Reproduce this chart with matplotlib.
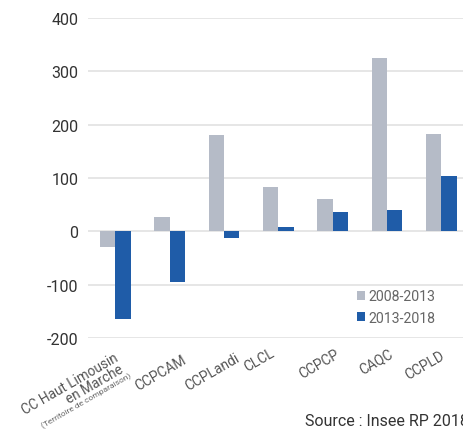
import numpy as np
import matplotlib
matplotlib.use("Agg")
import matplotlib.pyplot as plt
from matplotlib.transforms import ScaledTranslation, blended_transform_factory
from matplotlib.ticker import FuncFormatter

plt.rcParams['font.family'] = ['Roboto', 'DejaVu Sans']

categories = ["CC Haut Limousin", "CCPCAM", "CCPLandi", "CLCL", "CCPCP", "CAQC", "CCPLD"]
first_line2 = "en Marche"
subtitle = "(Territoire de comparaison)"
series_names = ["2008-2013", "2013-2018"]
v_2008_2013 = [-29, 27, 181, 84, 60, 324, 182]
v_2013_2018 = [-163, -95, -12, 9, 37, 41, 104]
yticks = [-200, -100, 0, 100, 200, 300, 400]

# label placement tweaks (pixels from tick / axis bottom)
lab_dx = [4, 17.7, 16, -3, 7.5, 6.5, 4]
lab_dy = [21, 23.4, 21.4, 16.7, 18, 17.4, 19]

col_gray = "#b5bbc7"
col_blue = "#1f5ca8"

fig = plt.figure(figsize=(4.64, 4.31), dpi=100)
ax = fig.add_axes([0.19, 0.2128, 0.81, 0.7438])

x = np.arange(len(categories))
w = 0.283
ax.bar(x - w / 2, v_2008_2013, w, color=col_gray, label=series_names[0], zorder=2)
ax.bar(x + w / 2, v_2013_2018, w, color=col_blue, label=series_names[1], zorder=2)

ax.set_xlim(-0.503, 6.42)
ax.set_ylim(-200, 400)
ax.set_yticks(yticks)
ax.yaxis.set_major_formatter(FuncFormatter(lambda v, p: "%d" % v))
ax.grid(axis='y', color="#e2e2e2", linewidth=1.2, zorder=0)
for s in ax.spines.values():
    s.set_visible(False)
ax.tick_params(axis='y', length=0, pad=7, labelsize=11.5, labelcolor="#333333")
ax.set_xticks([])

# x labels, rotated; offsets given in pixels
px = 0.72 / 72
trans = blended_transform_factory(ax.transData, ax.transAxes)

def label(xpos, txt, dx, dy, size, color):
    off = ScaledTranslation(dx * px, -dy * px, fig.dpi_scale_trans)
    ax.text(xpos, 0, txt, transform=trans + off, rotation=30, rotation_mode='anchor',
            ha='right', va='baseline', fontsize=size, color=color)

for i, lab in enumerate(categories):
    label(i, lab, lab_dx[i], lab_dy[i], 9.8 if i == 0 else 10, "#555555")
label(0, first_line2, lab_dx[0] + 4.8, lab_dy[0] + 12.3, 9.8, "#555555")
label(0, subtitle, lab_dx[0] + 12.3, lab_dy[0] + 17.2, 6, "#666666")

leg = ax.legend(loc='upper left', bbox_to_anchor=(357 / 464, 1 - 290 / 431),
                bbox_transform=fig.transFigure, frameon=False, borderpad=0, borderaxespad=0,
                handlelength=0.6, handleheight=0.6, handletextpad=0.2, labelspacing=0.55,
                fontsize=10.2, labelcolor="#666666")

fig.text(0.657, 0.005, "Source : Insee RP 2018", fontsize=11.5, color="#333333",
         ha='left', va='bottom')

fig.savefig("out.png", dpi=100)
